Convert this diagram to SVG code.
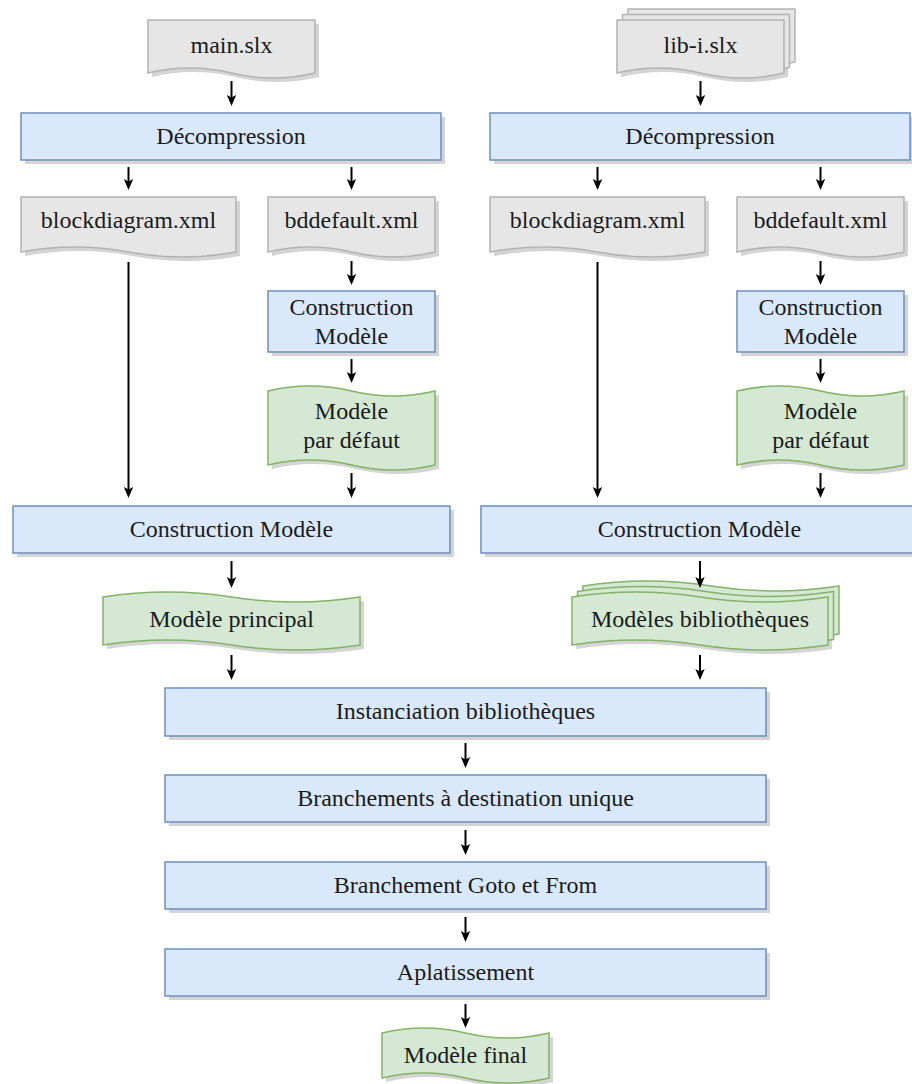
<svg xmlns="http://www.w3.org/2000/svg" width="912" height="1084" viewBox="0 0 912 1084">
<style>
.t{font-family:"Liberation Serif","Times New Roman",serif;font-size:24px;fill:#1a1a1a;text-anchor:middle}
.sh{fill:#d4d4d4;stroke:none}
.blue{fill:#dae8fc;stroke:#6c8ebf;stroke-width:1.5}
.green{fill:#d5e8d4;stroke:#82b366;stroke-width:1.5}
.gray{fill:#e6e6e6;stroke:#b3b3b3;stroke-width:1.5}
.conn line{stroke:#000;stroke-width:2;marker-end:url(#ah)}
</style>
<defs>
<marker id="ah" viewBox="0 0 11 11" refX="8" refY="5.5" markerWidth="11" markerHeight="11" markerUnits="userSpaceOnUse" orient="auto">
<path d="M0,0.8 L11,5.5 L0,10.2 L2.5,5.5 Z" fill="#000"/>
</marker>
</defs>
<rect width="912" height="1084" fill="#fff"/>

<g id="main-slx">
<path class="sh" transform="translate(4,4)" d="M148,20 H315 V73 Q273.25,83 231.5,73 T148,73 Z"/>
<path class="gray" d="M148,20 H315 V73 Q273.25,83 231.5,73 T148,73 Z"/>
<text class="t" x="231.5" y="53">main.slx</text>
</g>

<g id="lib-slx">
<path class="sh" transform="translate(4,4)" d="M617,20 H784 V73 Q742.25,83 700.5,73 T617,73 Z"/>
<path class="gray" transform="translate(11,-11)" d="M617,20 H784 V73 Q742.25,83 700.5,73 T617,73 Z"/>
<path class="gray" transform="translate(5.5,-5.5)" d="M617,20 H784 V73 Q742.25,83 700.5,73 T617,73 Z"/>
<path class="gray" d="M617,20 H784 V73 Q742.25,83 700.5,73 T617,73 Z"/>
<text class="t" x="700.5" y="53">lib-i.slx</text>
</g>

<g id="decomp-l">
<rect class="sh" x="25" y="117" width="420" height="47"/>
<rect class="blue" x="21" y="113" width="420" height="47"/>
<text class="t" x="231" y="144">Décompression</text>
</g>

<g id="decomp-r">
<rect class="sh" x="494" y="117" width="420" height="47"/>
<rect class="blue" x="490" y="113" width="420" height="47"/>
<text class="t" x="700" y="144">Décompression</text>
</g>

<g id="blockdiagram-l">
<path class="sh" transform="translate(4,4)" d="M21,197 H236 V252 Q182.25,262 128.5,252 T21,252 Z"/>
<path class="gray" d="M21,197 H236 V252 Q182.25,262 128.5,252 T21,252 Z"/>
<text class="t" x="128.5" y="228">blockdiagram.xml</text>
</g>

<g id="bddefault-l">
<path class="sh" transform="translate(4,4)" d="M268,197 H435 V252 Q393.25,262 351.5,252 T268,252 Z"/>
<path class="gray" d="M268,197 H435 V252 Q393.25,262 351.5,252 T268,252 Z"/>
<text class="t" x="351.5" y="228">bddefault.xml</text>
</g>

<g id="blockdiagram-r">
<path class="sh" transform="translate(4,4)" d="M490,197 H705 V252 Q651.25,262 597.5,252 T490,252 Z"/>
<path class="gray" d="M490,197 H705 V252 Q651.25,262 597.5,252 T490,252 Z"/>
<text class="t" x="597.5" y="228">blockdiagram.xml</text>
</g>

<g id="bddefault-r">
<path class="sh" transform="translate(4,4)" d="M737,197 H904 V252 Q862.25,262 820.5,252 T737,252 Z"/>
<path class="gray" d="M737,197 H904 V252 Q862.25,262 820.5,252 T737,252 Z"/>
<text class="t" x="820.5" y="228">bddefault.xml</text>
</g>

<g id="construction-small-l">
<rect class="sh" x="272" y="295" width="167" height="61"/>
<rect class="blue" x="268" y="291" width="167" height="61"/>
<text class="t" x="351.5" y="315">Construction</text>
<text class="t" x="351.5" y="344">Modèle</text>
</g>

<g id="construction-small-r">
<rect class="sh" x="741" y="295" width="167" height="61"/>
<rect class="blue" x="737" y="291" width="167" height="61"/>
<text class="t" x="820.5" y="315">Construction</text>
<text class="t" x="820.5" y="344">Modèle</text>
</g>

<g id="defaut-l">
<path class="sh" transform="translate(4,4)" d="M268,391 Q309.75,381 351.5,391 T435,391 V465 Q393.25,475 351.5,465 T268,465 Z"/>
<path class="green" d="M268,391 Q309.75,381 351.5,391 T435,391 V465 Q393.25,475 351.5,465 T268,465 Z"/>
<text class="t" x="351.5" y="419">Modèle</text>
<text class="t" x="351.5" y="448">par défaut</text>
</g>

<g id="defaut-r">
<path class="sh" transform="translate(4,4)" d="M737,391 Q778.75,381 820.5,391 T904,391 V465 Q862.25,475 820.5,465 T737,465 Z"/>
<path class="green" d="M737,391 Q778.75,381 820.5,391 T904,391 V465 Q862.25,475 820.5,465 T737,465 Z"/>
<text class="t" x="820.5" y="419">Modèle</text>
<text class="t" x="820.5" y="448">par défaut</text>
</g>

<g id="construction-l">
<rect class="sh" x="17" y="510" width="437" height="47"/>
<rect class="blue" x="13" y="506" width="437" height="47"/>
<text class="t" x="231.5" y="537">Construction Modèle</text>
</g>

<g id="construction-r">
<rect class="sh" x="485" y="510" width="437" height="47"/>
<rect class="blue" x="481" y="506" width="437" height="47"/>
<text class="t" x="699.5" y="537">Construction Modèle</text>
</g>

<g id="modele-principal">
<path class="sh" transform="translate(4,4)" d="M103,597 Q167.25,587 231.5,597 T360,597 V645 Q295.75,655 231.5,645 T103,645 Z"/>
<path class="green" d="M103,597 Q167.25,587 231.5,597 T360,597 V645 Q295.75,655 231.5,645 T103,645 Z"/>
<text class="t" x="231.5" y="627">Modèle principal</text>
</g>

<g id="modeles-bibliotheques">
<path class="sh" transform="translate(4,4)" d="M572,597 Q636,587 700,597 T828,597 V645 Q764,655 700,645 T572,645 Z"/>
<path class="green" transform="translate(11,-11)" d="M572,597 Q636,587 700,597 T828,597 V645 Q764,655 700,645 T572,645 Z"/>
<path class="green" transform="translate(5.5,-5.5)" d="M572,597 Q636,587 700,597 T828,597 V645 Q764,655 700,645 T572,645 Z"/>
<path class="green" d="M572,597 Q636,587 700,597 T828,597 V645 Q764,655 700,645 T572,645 Z"/>
<text class="t" x="700" y="627">Modèles bibliothèques</text>
</g>

<g id="instanciation">
<rect class="sh" x="169" y="692" width="601" height="48"/>
<rect class="blue" x="165" y="688" width="601" height="48"/>
<text class="t" x="465.5" y="719">Instanciation bibliothèques</text>
</g>

<g id="branchements">
<rect class="sh" x="169" y="779" width="601" height="47"/>
<rect class="blue" x="165" y="775" width="601" height="47"/>
<text class="t" x="465.5" y="806">Branchements à destination unique</text>
</g>

<g id="goto-from">
<rect class="sh" x="169" y="866" width="601" height="47"/>
<rect class="blue" x="165" y="862" width="601" height="47"/>
<text class="t" x="465.5" y="893">Branchement Goto et From</text>
</g>

<g id="aplatissement">
<rect class="sh" x="169" y="953" width="601" height="47"/>
<rect class="blue" x="165" y="949" width="601" height="47"/>
<text class="t" x="465.5" y="980">Aplatissement</text>
</g>

<g id="modele-final">
<path class="sh" transform="translate(4,4)" d="M382,1033 Q423.75,1023 465.5,1033 T549,1033 V1078 Q507.25,1088 465.5,1078 T382,1078 Z"/>
<path class="green" d="M382,1033 Q423.75,1023 465.5,1033 T549,1033 V1078 Q507.25,1088 465.5,1078 T382,1078 Z"/>
<text class="t" x="465.5" y="1063">Modèle final</text>
</g>

<g id="connectors" class="conn">
<line x1="231.5" y1="81" x2="231.5" y2="103"/>
<line x1="700.5" y1="81" x2="700.5" y2="103"/>
<line x1="128.5" y1="167" x2="128.5" y2="187"/>
<line x1="351.5" y1="167" x2="351.5" y2="187"/>
<line x1="597.5" y1="167" x2="597.5" y2="187"/>
<line x1="820.5" y1="167" x2="820.5" y2="187"/>
<line x1="128.5" y1="262" x2="128.5" y2="495"/>
<line x1="597.5" y1="262" x2="597.5" y2="495"/>
<line x1="351.5" y1="261" x2="351.5" y2="282"/>
<line x1="820.5" y1="261" x2="820.5" y2="282"/>
<line x1="351.5" y1="359" x2="351.5" y2="380"/>
<line x1="820.5" y1="359" x2="820.5" y2="380"/>
<line x1="351.5" y1="473" x2="351.5" y2="495"/>
<line x1="820.5" y1="473" x2="820.5" y2="495"/>
<line x1="231.5" y1="561" x2="231.5" y2="585"/>
<line x1="700" y1="561" x2="700" y2="585"/>
<line x1="231.5" y1="655" x2="231.5" y2="677"/>
<line x1="700" y1="655" x2="700" y2="677"/>
<line x1="465.5" y1="743" x2="465.5" y2="765"/>
<line x1="465.5" y1="830" x2="465.5" y2="852"/>
<line x1="465.5" y1="917" x2="465.5" y2="939"/>
<line x1="465.5" y1="1004" x2="465.5" y2="1025"/>
</g>
</svg>
